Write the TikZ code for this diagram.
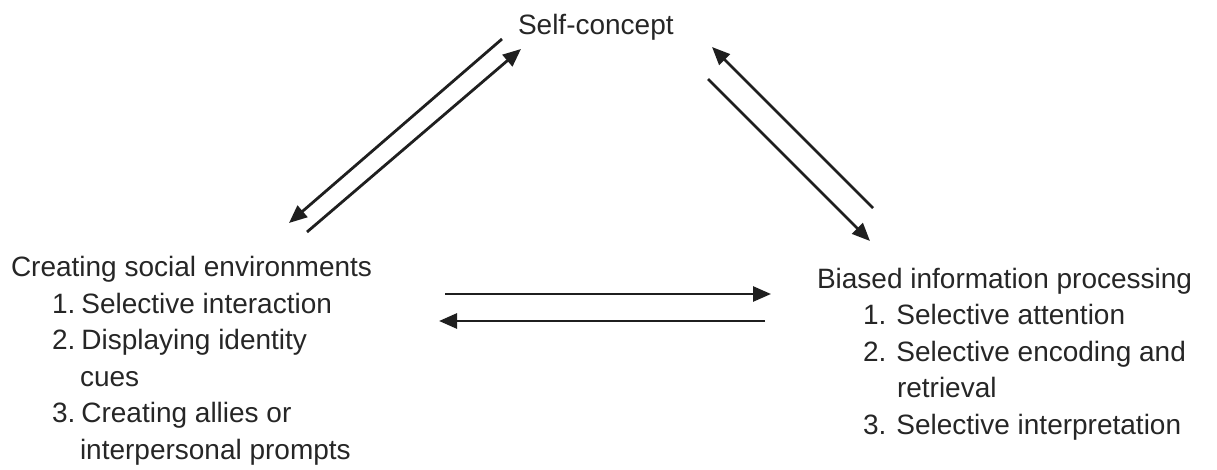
\documentclass[tikz,border=0pt]{standalone}
\usepackage{fontspec}
\setmainfont{Liberation Sans}
\usetikzlibrary{arrows.meta}
\tikzset{
  lbl/.style={inner sep=0pt, outer sep=0pt, align=left, anchor=base west,
    font=\fontsize{28}{36.5}\selectfont, text=black!85},
  conn/.style={line width=2.8pt, draw=black!88,
    -{Triangle[length=18pt,width=15pt]}}
}
\begin{document}
\begin{tikzpicture}[x=1pt,y=-1pt]
\useasboundingbox (0,0) rectangle (1217,470);
% base anchor of a multi-line node = baseline of its last line
\node[lbl] (self) at (518,35) {Self-concept};
\node[lbl] (left) at (11,459) {Creating social environments\\
\hspace*{41pt}1.\hspace{6pt}Selective interaction\\
\hspace*{41pt}2.\hspace{6pt}Displaying identity\\
\hspace*{69pt}cues\\
\hspace*{41pt}3.\hspace{6pt}Creating allies or\\
\hspace*{69pt}interpersonal prompts};
\node[lbl] (right) at (817,434) {Biased information processing\\
\hspace*{46pt}1.\hspace{10pt}Selective attention\\
\hspace*{46pt}2.\hspace{10pt}Selective encoding and\\
\hspace*{80pt}retrieval\\
\hspace*{46pt}3.\hspace{10pt}Selective interpretation};
% connector end points
\coordinate (a1) at (502,39);  \coordinate (a2) at (289,223);
\coordinate (b1) at (307,232); \coordinate (b2) at (521,49);
\coordinate (c1) at (873,208); \coordinate (c2) at (712,47);
\coordinate (d1) at (708,79);  \coordinate (d2) at (870,241);
\coordinate (e1) at (445,294); \coordinate (e2) at (771,294);
\coordinate (f1) at (765,321); \coordinate (f2) at (439,321);
\draw[conn] (a1) -- (a2);
\draw[conn] (b1) -- (b2);
\draw[conn] (c1) -- (c2);
\draw[conn] (d1) -- (d2);
\draw[conn] (e1) -- (e2);
\draw[conn] (f1) -- (f2);
\end{tikzpicture}
\end{document}
